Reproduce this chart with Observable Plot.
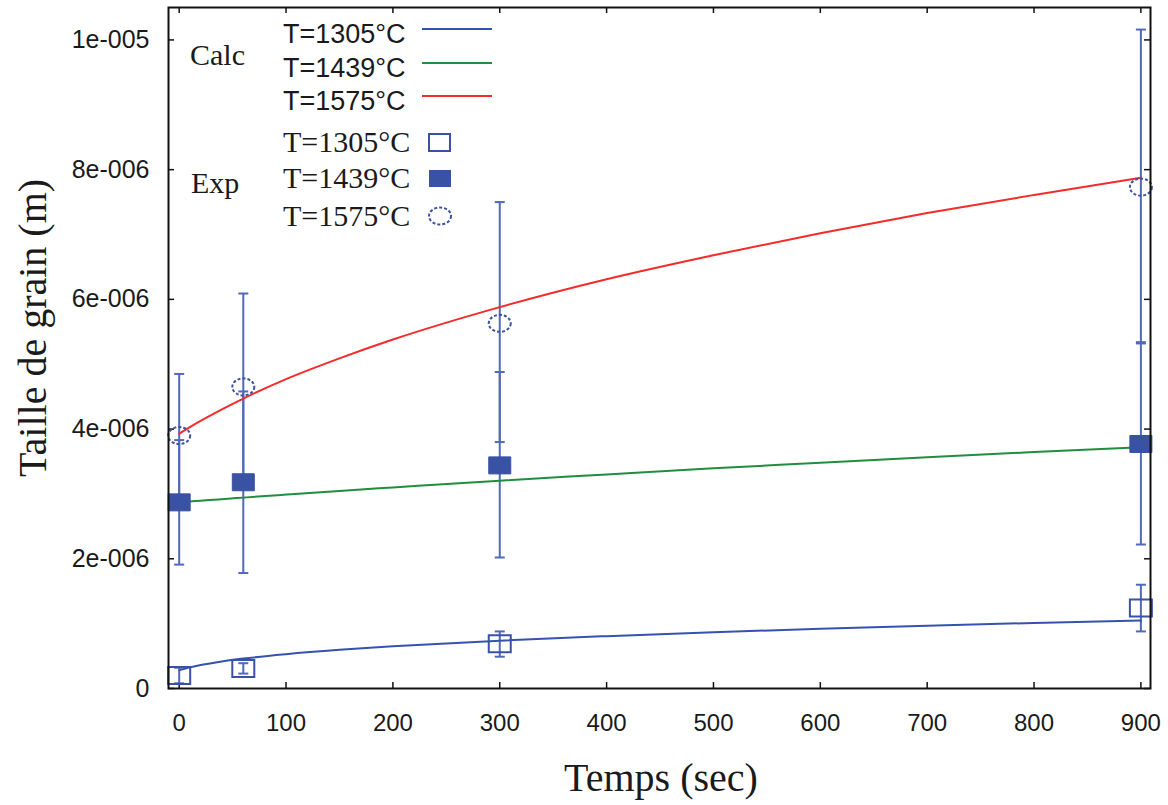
<!DOCTYPE html>
<html>
<head>
<meta charset="utf-8">
<script src="https://cdn.jsdelivr.net/npm/d3@7"></script>
<script src="https://cdn.jsdelivr.net/npm/@observablehq/plot@0.6"></script>
<style>
  body { margin: 0; background: white; }
  #wrap { position: relative; width: 1168px; height: 805px; }
  #wrap > svg { position: absolute; left: 0; top: 0; }
  .lab { position: absolute; white-space: nowrap; color: #1a1a1a; }
</style>
</head>
<body>
<div id="wrap"></div>
<script>
// ---- data (sizes in metres) ----
const xTicks = [0, 100, 200, 300, 400, 500, 600, 700, 800, 900];
const yTicks = [0, 2e-6, 4e-6, 6e-6, 8e-6, 1e-5];

const calcTime = [0, 10, 20, 40, 60, 100, 150, 200, 300, 400, 500, 600, 700, 800, 900];
const calc1305 = [0.28e-6, 0.326e-6, 0.361e-6, 0.417e-6, 0.461e-6, 0.529e-6, 0.596e-6, 0.650e-6, 0.737e-6, 0.807e-6, 0.868e-6, 0.920e-6, 0.967e-6, 1.011e-6, 1.05e-6];
const calc1439 = [2.87e-6, 2.882e-6, 2.896e-6, 2.919e-6, 2.943e-6, 2.99e-6, 3.047e-6, 3.10e-6, 3.205e-6, 3.30e-6, 3.395e-6, 3.48e-6, 3.567e-6, 3.646e-6, 3.72e-6];
const calc1575 = [3.93e-6, 4.03e-6, 4.125e-6, 4.303e-6, 4.47e-6, 4.77e-6, 5.09e-6, 5.38e-6, 5.88e-6, 6.31e-6, 6.68e-6, 7.02e-6, 7.33e-6, 7.61e-6, 7.875e-6];

const expTime = [0, 60, 300, 900];
const exp1305 = [0.20e-6, 0.31e-6, 0.69e-6, 1.24e-6];
const exp1305Lo = [0.08e-6, 0.23e-6, 0.49e-6, 0.88e-6];
const exp1305Hi = [0.32e-6, 0.39e-6, 0.88e-6, 1.60e-6];
const exp1439 = [2.87e-6, 3.18e-6, 3.44e-6, 3.77e-6];
const exp1439Lo = [1.91e-6, 1.78e-6, 2.02e-6, 2.22e-6];
const exp1439Hi = [3.83e-6, 4.58e-6, 4.88e-6, 5.32e-6];
const exp1575 = [3.90e-6, 4.65e-6, 5.63e-6, 7.73e-6];
const exp1575Lo = [2.95e-6, 3.21e-6, 3.80e-6, 5.34e-6];
const exp1575Hi = [4.85e-6, 6.09e-6, 7.50e-6, 10.16e-6];

const seriesNames = ["T=1305°C", "T=1439°C", "T=1575°C"];
const lineColors = ["#3652b0", "#1f8e3e", "#f52a2a"];
const markColor = "#3a52a3";
const errColor = "#5069b9";

// ---- tables ----
const calcRows = [calc1305, calc1439, calc1575].flatMap((vals, s) =>
  vals.map((v, i) => ({series: seriesNames[s], t: calcTime[i], d: v})));
const expSets = [[exp1305, exp1305Lo, exp1305Hi], [exp1439, exp1439Lo, exp1439Hi], [exp1575, exp1575Lo, exp1575Hi]];
const expRows = expSets.flatMap(([v, lo, hi], s) =>
  v.map((d, i) => ({series: s, t: expTime[i], d, lo: lo[i], hi: hi[i]})));

// ---- custom symbols ----
const rectSym = {draw(ctx) { ctx.moveTo(-11, -8.5); ctx.lineTo(11, -8.5); ctx.lineTo(11, 8.5); ctx.lineTo(-11, 8.5); ctx.closePath(); }};
const ellSym = {draw(ctx) {
  const rx = 11, ry = 8.5, k = 0.5523;
  ctx.moveTo(rx, 0);
  ctx.bezierCurveTo(rx, k * ry, k * rx, ry, 0, ry);
  ctx.bezierCurveTo(-k * rx, ry, -rx, k * ry, -rx, 0);
  ctx.bezierCurveTo(-rx, -k * ry, -k * rx, -ry, 0, -ry);
  ctx.bezierCurveTo(k * rx, -ry, rx, -k * ry, rx, 0);
}};
const capSym = {draw(ctx) { ctx.moveTo(-5, 0); ctx.lineTo(5, 0); }};

function fmtY(v) {
  if (v === 0) return "0";
  const [m, e] = v.toExponential(0).split("e");
  return m + "e" + e[0] + e.slice(1).padStart(3, "0");
}

const plot = Plot.plot({
  width: 1168, height: 805,
  marginLeft: 168, marginRight: 18, marginTop: 7, marginBottom: 117,
  x: {domain: [-10, 909]},
  y: {domain: [0, 1.05e-5]},
  style: {background: "white", fontFamily: "'Liberation Sans', Arial, sans-serif", color: "#1a1a1a"},
  marks: [
    Plot.axisX(xTicks, {tickSize: 0, tickPadding: 25, fontSize: 24, label: null}),
    Plot.axisY(yTicks, {tickSize: 0, tickPadding: 19, fontSize: 25, tickFormat: fmtY, label: null}),
    // inward ticks on all four sides
    Plot.tickX(xTicks, {x: d => d, insetTop: 675, stroke: "#111", strokeWidth: 1.5}),
    Plot.tickX(xTicks, {x: d => d, insetBottom: 675, stroke: "#111", strokeWidth: 1.5}),
    Plot.tickY(yTicks, {y: d => d, insetRight: 976, stroke: "#111", strokeWidth: 1.5}),
    Plot.tickY(yTicks, {y: d => d, insetLeft: 976, stroke: "#111", strokeWidth: 1.5}),
    // error bars
    Plot.ruleX(expRows, {x: "t", y1: "lo", y2: "hi", stroke: errColor, strokeWidth: 2}),
    Plot.dot(expRows, {x: "t", y: "lo", symbol: capSym, stroke: errColor, strokeWidth: 2, r: 5}),
    Plot.dot(expRows, {x: "t", y: "hi", symbol: capSym, stroke: errColor, strokeWidth: 2, r: 5}),
    // calculated curves
    Plot.line(calcRows, {x: "t", y: "d", z: "series", stroke: d => lineColors[seriesNames.indexOf(d.series)], strokeWidth: 2, curve: "monotone-x"}),
    // experimental markers
    Plot.dot(expRows.filter(d => d.series === 0), {x: "t", y: "d", symbol: rectSym, stroke: markColor, strokeWidth: 2, fill: "none", r: 10}),
    Plot.dot(expRows.filter(d => d.series === 1), {x: "t", y: "d", symbol: rectSym, stroke: markColor, strokeWidth: 1, fill: markColor, r: 10}),
    Plot.dot(expRows.filter(d => d.series === 2), {x: "t", y: "d", symbol: ellSym, stroke: markColor, strokeWidth: 2, fill: "none", strokeDasharray: "3,2", r: 10}),
    Plot.frame({stroke: "#111", strokeWidth: 2})
  ]
});
const wrap = document.getElementById("wrap");
wrap.appendChild(plot);

// ---- legend overlay ----
const ns = "http://www.w3.org/2000/svg";
const leg = document.createElementNS(ns, "svg");
leg.setAttribute("width", 1168); leg.setAttribute("height", 805);
leg.style.pointerEvents = "none";
wrap.appendChild(leg);
function el(tag, attrs, text) {
  const e = document.createElementNS(ns, tag);
  for (const k in attrs) e.setAttribute(k, attrs[k]);
  if (text) e.textContent = text;
  leg.appendChild(e);
  return e;
}
const serif = "'Liberation Serif', 'Times New Roman', serif";
const sans = "'Liberation Sans', Arial, sans-serif";
el("text", {x: 190, y: 65, "font-family": serif, "font-size": 30, fill: "#1a1a1a"}, "Calc");
el("text", {x: 191, y: 193, "font-family": serif, "font-size": 30, fill: "#1a1a1a"}, "Exp");
const calcY = [29, 63, 96];
calcY.forEach((y, i) => {
  el("text", {x: 283, y: y + 14, "font-family": sans, "font-size": 27, fill: "#1a1a1a"}, seriesNames[i]);
  el("line", {x1: 422, x2: 492, y1: y, y2: y, stroke: lineColors[i], "stroke-width": 2});
});
const expY = [142, 178, 216];
expY.forEach((y, i) => {
  el("text", {x: 283, y: y + 10, "font-family": serif, "font-size": 30, fill: "#1a1a1a"}, seriesNames[i]);
});
el("rect", {x: 429, y: 134, width: 21, height: 17, fill: "none", stroke: markColor, "stroke-width": 2});
el("rect", {x: 429, y: 170, width: 22, height: 17, fill: markColor});
el("ellipse", {cx: 440, cy: 216, rx: 11, ry: 8.5, fill: "none", stroke: markColor, "stroke-width": 2, "stroke-dasharray": "3,2"});

// axis titles
const xt = document.createElement("div");
xt.className = "lab";
xt.textContent = "Temps (sec)";
xt.style.cssText += "font-family:" + serif + ";font-size:40px;left:661px;top:777px;transform:translate(-50%,-50%);";
wrap.appendChild(xt);
const yt = document.createElement("div");
yt.className = "lab";
yt.textContent = "Taille de grain (m)";
yt.style.cssText += "font-family:" + serif + ";font-size:40px;left:32px;top:328px;transform:translate(-50%,-50%) rotate(-90deg);";
wrap.appendChild(yt);
</script>
</body>
</html>
